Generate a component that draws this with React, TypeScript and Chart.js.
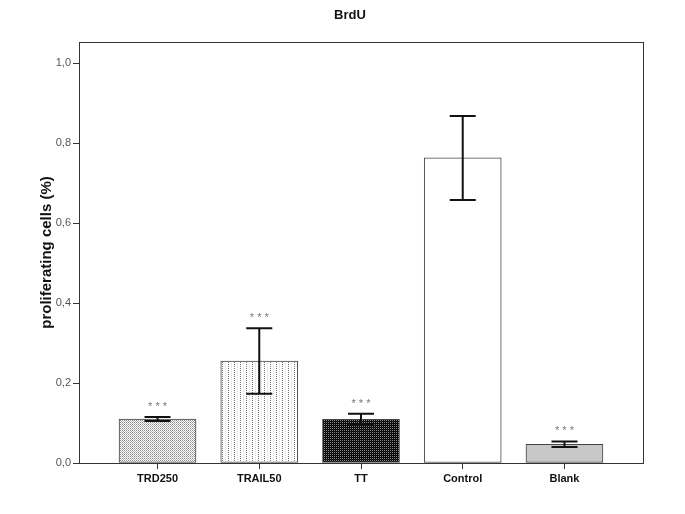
import React, { useEffect, useRef } from 'react';
import { Chart, registerables } from 'chart.js';
Chart.register(...registerables);

const categories = ['TRD250', 'TRAIL50', 'TT', 'Control', 'Blank'];
const means = [0.110, 0.255, 0.109, 0.763, 0.047];
const errors = [0.005, 0.082, 0.014, 0.105, 0.007];
const sigLabels = ['* * *', '* * *', '* * *', '', '* * *'];
const yTickValues = [0, 0.2, 0.4, 0.6, 0.8, 1.0];
const titleText = 'BrdU';
const yTitle = 'proliferating cells (%)';

function makePattern(w: number, h: number, bg: string, dots: [number, number, string][]) {
  const c = document.createElement('canvas');
  c.width = w;
  c.height = h;
  const g = c.getContext('2d')!;
  g.fillStyle = bg;
  g.fillRect(0, 0, w, h);
  dots.forEach(([x, y, col]) => {
    g.fillStyle = col;
    g.fillRect(x, y, 1, 1);
  });
  const p = g.createPattern(c, 'repeat');
  return p as CanvasPattern;
}

export default function App() {
  const ref = useRef<HTMLCanvasElement>(null);
  useEffect(() => {
    document.body.style.margin = '0';
    const fills = [
      makePattern(2, 2, '#ffffff', [[0, 0, '#8a8a8a'], [1, 1, '#b4b4b4']]),
      makePattern(6, 2, '#ffffff', [[0, 0, '#6f6f6f'], [3, 1, '#d8d8d8']]),
      makePattern(2, 2, '#000000', [[0, 0, '#8c8c8c'], [1, 1, '#1a1a1a']]),
      '#ffffff',
      '#c8c8c8',
    ];

    const overlay = {
      id: 'overlay',
      afterDatasetsDraw(chart: any) {
        const { ctx, chartArea, scales } = chart;
        const x = scales.x;
        const y = scales.y;
        ctx.save();
        ctx.strokeStyle = '#333333';
        ctx.lineWidth = 1;
        ctx.strokeRect(
          Math.round(chartArea.left) + 0.5,
          Math.round(chartArea.top) + 0.5,
          Math.round(chartArea.right - chartArea.left),
          Math.round(chartArea.bottom - chartArea.top)
        );
        means.forEach((m, i) => {
          const px = x.getPixelForValue(i);
          const top = y.getPixelForValue(m + errors[i]);
          const bot = y.getPixelForValue(m - errors[i]);
          ctx.strokeStyle = '#111111';
          ctx.lineWidth = 2;
          ctx.beginPath();
          ctx.moveTo(px, top);
          ctx.lineTo(px, bot);
          ctx.moveTo(px - 13, top);
          ctx.lineTo(px + 13, top);
          ctx.moveTo(px - 13, bot);
          ctx.lineTo(px + 13, bot);
          ctx.stroke();
          if (sigLabels[i]) {
            ctx.fillStyle = '#777777';
            ctx.font = '11px "Liberation Sans", Arial, sans-serif';
            ctx.textAlign = 'center';
            ctx.textBaseline = 'alphabetic';
            ctx.fillText(sigLabels[i], px, top - 7);
          }
        });
        ctx.restore();
      },
    };

    const chart = new Chart(ref.current!, {
      type: 'bar',
      data: {
        datasets: [
          {
            data: means.map((v, i) => ({ x: i, y: v })),
            backgroundColor: fills as any,
            borderColor: '#444444',
            borderWidth: 1,
            borderSkipped: false,
            barThickness: 77,
          },
        ],
      },
      options: {
        animation: false,
        responsive: true,
        maintainAspectRatio: false,
        layout: { padding: { left: 15, right: 0, top: 0, bottom: 0 } },
        plugins: {
          legend: { display: false },
          tooltip: { enabled: false },
          title: {
            display: true,
            text: titleText,
            color: '#111111',
            font: { family: '"Liberation Sans", Arial, sans-serif', size: 13, weight: 'bold' },
            padding: { top: 8, bottom: 18.4 },
          },
        },
        scales: {
          x: {
            type: 'linear',
            offset: false,
            min: -0.772,
            max: 4.772,
            afterBuildTicks: (s: any) => {
              s.ticks = categories.map((_, i) => ({ value: i }));
            },
            afterFit: (s: any) => {
              s.height = 51;
            },
            ticks: {
              autoSkip: false,
              maxRotation: 0,
              padding: 3,
              color: '#111111',
              font: { family: '"Liberation Sans", Arial, sans-serif', size: 11, weight: 'bold' },
              callback: (v: any) => categories[Math.round(Number(v))] ?? '',
            },
            grid: { offset: false, drawOnChartArea: false, drawTicks: true, tickLength: 6, color: '#333333' },
            border: { display: false },
          },
          y: {
            type: 'linear',
            position: 'left',
            min: 0,
            max: 1.053,
            afterBuildTicks: (s: any) => {
              s.ticks = yTickValues.map((v) => ({ value: v }));
            },
            afterFit: (s: any) => {
              s.width = 64;
            },
            ticks: {
              padding: 2,
              color: '#555555',
              font: { family: '"Liberation Sans", Arial, sans-serif', size: 11 },
              callback: (v: any) => Number(v).toFixed(1).replace('.', ','),
            },
            grid: { drawOnChartArea: false, drawTicks: true, tickLength: 6, color: '#333333' },
            border: { display: false },
            title: {
              display: true,
              text: yTitle,
              color: '#111111',
              font: { family: '"Liberation Sans", Arial, sans-serif', size: 15, weight: 'bold' },
              padding: { top: 23, bottom: 0 },
            },
          },
          y2: {
            type: 'linear',
            position: 'right',
            display: true,
            ticks: { display: false },
            grid: { display: false },
            border: { display: false },
            afterFit: (s: any) => {
              s.width = 42;
            },
          },
        },
      },
      plugins: [overlay],
    });
    return () => chart.destroy();
  }, []);

  return (
    <div style={{ width: 685, height: 514, position: 'relative', background: '#ffffff' }}>
      <canvas ref={ref} />
    </div>
  );
}
